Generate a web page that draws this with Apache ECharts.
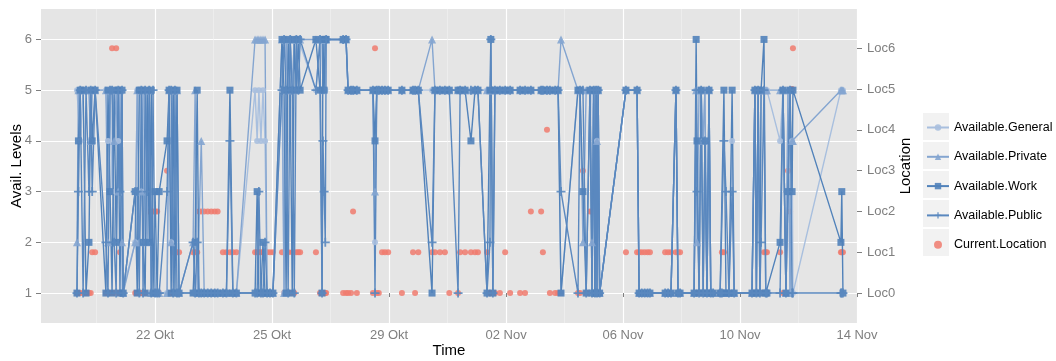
<!DOCTYPE html>
<html>
<head>
<meta charset="utf-8">
<script src="https://cdn.jsdelivr.net/npm/echarts@6/dist/echarts.min.js"></script>
<style>
html, body { margin: 0; padding: 0; background: #fff; }
#chart { width: 1056px; height: 361px; }
</style>
</head>
<body>
<div id="chart"></div>
<script>
// time in days after 18 Okt, 00:00
var timeDays = [
  1.33,1.38,1.44,1.54,1.64,1.74,1.80,1.85,1.95,
  2.32,2.39,2.46,2.53,2.60,2.67,2.74,2.80,2.87,2.91,
  3.32,3.39,3.46,3.53,3.59,3.66,3.73,3.80,3.87,3.93,4.00,4.07,4.14,
  4.41,4.48,4.55,4.62,4.68,4.75,4.82,
  5.30,5.37,5.44,5.50,5.58,5.68,5.80,5.92,6.04,6.14,
  6.32,6.44,6.56,6.66,6.78,
  7.42,7.49,7.55,7.62,7.69,7.76,7.83,7.93,8.03,
  8.34,8.41,8.48,8.55,8.62,8.69,8.76,8.83,8.90,8.96,
  9.50,9.64,9.71,9.74,9.78,9.82,9.85,
  10.43,10.53,10.60,10.70,10.77,10.90,
  11.45,11.52,11.58,11.65,11.76,11.86,11.97,
  12.44,12.82,12.89,13.00,
  13.47,13.57,13.74,13.91,
  14.06,14.36,14.43,14.60,14.80,14.94,15.04,
  15.35,15.45,15.48,15.55,15.62,15.79,15.97,16.14,
  16.48,16.65,16.85,17.20,17.26,17.40,17.50,17.68,17.78,
  17.88,
  18.46,18.53,18.63,18.74,18.87,18.94,19.00,19.04,19.08,19.11,19.15,19.20,
  20.10,20.48,20.55,20.64,20.74,20.84,20.92,
  21.44,21.54,21.64,21.81,21.88,21.95,
  22.43,22.50,22.53,22.60,22.67,22.74,22.80,22.87,22.94,23.00,23.08,
  23.32,23.38,23.45,23.52,23.62,23.73,23.80,
  24.41,24.51,24.56,24.62,24.68,24.72,24.82,24.88,24.92,
  25.37,25.47,25.57,25.64,25.71,25.78,25.81,
  27.45,27.48,27.52
];
var availGeneral = [
  5,5,4,5,5,5,4,5,5,
  5,4,5,3,5,5,4,5,1,1,
  2,5,5,3,5,2,5,5,1,1,1,1,1,
  1,5,2,5,5,5,1,
  1,1,1,1,1,1,1,1,1,1,
  1,1,1,1,1,
  5,4,5,4,5,4,1,1,1,
  5,1,6,5,6,5,6,5,6,6,
  5,6,6,5,6,5,6,
  6,6,5,5,5,5,
  5,2,5,5,5,5,5,
  5,5,5,5,
  5,5,5,5,
  5,5,5,5,5,5,5,
  5,5,5,5,5,5,5,5,
  5,5,5,5,5,5,5,5,5,
  1,
  5,5,5,5,5,5,5,1,5,4,5,1,
  5,5,1,1,1,1,1,
  1,1,1,5,1,1,
  1,5,5,5,5,4,5,1,5,1,1,
  1,1,1,1,1,4,1,
  1,5,1,5,1,5,5,5,5,
  4,5,1,5,1,4,1,
  5,5,5
];
var availPrivate = [
  2,5,5,5,5,5,4,5,5,
  5,2,5,5,4,5,3,5,2,1,
  2,5,2,3,5,5,2,5,1,1,1,1,1,
  1,5,2,5,5,5,1,
  2,5,1,1,4,1,1,1,1,1,
  1,1,1,1,1,
  6,6,6,6,6,6,1,1,1,
  6,1,6,5,6,5,6,6,6,6,
  6,6,6,5,6,6,6,
  6,6,5,5,5,5,
  5,3,5,5,5,5,5,
  5,5,5,5,
  6,5,5,5,
  5,5,5,5,5,5,5,
  5,5,5,5,5,5,5,5,
  5,5,5,5,5,5,5,5,5,
  6,
  5,5,2,5,5,2,5,1,5,4,5,1,
  5,5,1,1,1,1,1,
  1,1,1,5,1,1,
  1,5,2,5,5,4,5,1,5,1,1,
  1,1,1,1,1,1,1,
  1,5,5,5,5,5,5,5,5,
  5,5,1,5,1,4,4,
  5,5,5
];
var availWork = [
  1,4,5,5,1,2,5,4,5,
  1,5,3,1,5,2,5,1,5,1,
  3,1,5,5,2,1,5,2,5,1,3,1,3,
  4,5,1,5,1,5,1,
  1,2,5,1,1,1,1,1,1,1,
  1,1,5,1,1,
  1,3,1,1,2,1,1,1,1,
  6,5,1,6,5,1,6,5,6,5,
  6,5,1,6,5,6,6,
  6,6,5,5,5,5,
  5,4,5,5,5,5,5,
  5,5,5,5,
  1,5,5,5,
  5,5,5,5,4,5,5,
  1,5,6,1,5,5,5,5,
  5,5,5,5,5,5,5,5,5,
  1,
  5,5,3,1,5,1,5,1,5,1,5,1,
  5,5,1,1,1,1,1,
  1,1,1,5,1,1,
  1,6,4,1,5,1,4,1,5,1,1,
  1,1,5,1,1,5,1,
  1,5,1,5,1,5,6,1,1,
  2,5,1,3,5,3,5,
  2,3,1
];
var availPublic = [
  1,3,5,1,5,3,5,3,5,
  2,1,5,5,2,1,5,3,5,1,
  3,3,1,5,1,5,3,5,1,5,1,1,1,
  3,5,5,1,5,1,1,
  2,1,2,1,1,1,1,1,1,1,
  1,1,4,1,1,
  1,1,3,1,1,2,1,1,1,
  5,6,5,1,6,5,1,6,5,6,
  5,6,1,4,3,2,6,
  6,6,5,5,5,5,
  5,1,5,5,5,5,5,
  5,5,5,5,
  2,5,5,5,
  5,1,5,5,5,5,5,
  1,2,6,1,5,5,5,5,
  5,5,5,5,5,5,5,5,5,
  3,
  1,5,5,1,5,1,5,1,5,1,5,1,
  5,5,1,1,1,1,1,
  1,1,1,5,1,1,
  1,5,3,1,5,1,4,1,5,1,1,
  1,1,4,3,1,3,1,
  1,5,1,5,1,2,5,1,1,
  1,5,1,3,5,1,1,
  1,1,1
];
// location index (Loc0 .. Loc6)
var currentLocation = [
  0,0,0,0,0,0,0,1,1,
  0,0,0,6,0,6,0,1,0,0,
  0,0,0,0,0,0,2,2,2,2,2,2,0,
  3,0,0,1,1,1,1,
  1,1,1,2,2,2,2,2,2,2,
  1,1,1,1,1,
  1,1,1,1,1,1,1,1,1,
  1,0,0,1,0,1,0,1,1,1,
  1,0,0,0,0,0,0,
  0,0,0,0,2,0,
  0,6,0,0,1,1,1,
  0,1,0,1,
  1,1,1,1,
  0,0,1,1,1,1,1,
  1,0,0,0,0,0,1,0,
  0,0,2,2,1,4,0,0,0,
  0,
  0,0,3,0,2,2,2,2,2,0,0,0,
  1,1,1,1,1,1,1,
  1,1,1,1,1,1,
  0,0,0,0,0,0,0,0,0,0,0,
  0,1,1,0,0,0,0,
  0,0,0,0,0,0,1,1,1,
  1,0,0,3,2,5,6,
  1,1,1
];

var xTickDays = [4, 8, 12, 16, 20, 24, 28];
var xTickLabels = ['22 Okt', '25 Okt', '29 Okt', '02 Nov', '06 Nov', '10 Nov', '14 Nov'];
var xMinorDays = [2, 6, 10, 14, 18, 22, 26];
var levelTicks = [1, 2, 3, 4, 5, 6];
var locTicks = [0, 1, 2, 3, 4, 5, 6];
var locLabels = ['Loc0', 'Loc1', 'Loc2', 'Loc3', 'Loc4', 'Loc5', 'Loc6'];

function pairs(vals) {
  return timeDays.map(function (t, i) { return [t, vals[i]]; });
}

var FONT = '"Liberation Sans", Arial, sans-serif';
var plusPath = 'path://M4,0 H6 V4 H10 V6 H6 V10 H4 V6 H0 V4 H4 Z';

function availSeries(name, vals, color, symbol, size) {
  return {
    name: name,
    type: 'line',
    data: pairs(vals),
    symbol: symbol,
    symbolSize: size,
    showAllSymbol: true,
    itemStyle: { color: color, opacity: 0.9 },
    lineStyle: { color: color, width: 1.4 },
    emphasis: { disabled: true }
  };
}

var chart = echarts.init(document.getElementById('chart'));
var option = {
  animation: false,
  textStyle: { fontFamily: FONT },
  grid: {
    left: 41, right: 199, top: 9, bottom: 38,
    outerBoundsMode: 'none',
    show: true, backgroundColor: '#e5e5e5', borderWidth: 0
  },
  legend: {
    orient: 'vertical',
    left: 921, top: 116,
    itemWidth: 22, itemHeight: 8, itemGap: 16.3,
    textStyle: { color: '#000', fontSize: 12.5, fontFamily: FONT },
    data: ['Available.General', 'Available.Private', 'Available.Work', 'Available.Public', 'Current.Location'],
    z: 10
  },
  graphic: [112, 141, 170, 199, 228].map(function (y) {
    return {
      type: 'rect', left: 922, top: y, z: 0,
      shape: { width: 27, height: 28 },
      style: { fill: '#f2f2f2', stroke: '#fff', lineWidth: 1 }
    };
  }),
  xAxis: [{
    type: 'value', min: 0.1, max: 28,
    name: 'Time', nameLocation: 'middle', nameGap: 20, nameMoveOverlap: false,
    nameTextStyle: { color: '#000', fontSize: 15, fontFamily: FONT },
    axisLine: { show: false },
    axisTick: { show: true, length: 4, lineStyle: { color: '#7f7f7f' }, customValues: xTickDays },
    axisLabel: {
      customValues: xTickDays, color: '#7f7f7f', fontSize: 13, margin: 6,
      formatter: function (v) { var i = xTickDays.indexOf(v); return i < 0 ? '' : xTickLabels[i]; }
    },
    splitLine: { show: true, lineStyle: { color: '#ffffff', width: 1.2 } }
  }, {
    type: 'value', min: 0.1, max: 28, position: 'top',
    axisLine: { show: false },
    axisTick: { show: false, customValues: xMinorDays },
    axisLabel: { show: false, customValues: xMinorDays },
    splitLine: { show: true, lineStyle: { color: '#f2f2f2', width: 0.6 } }
  }],
  yAxis: [{
    type: 'value', min: 0.41, max: 6.6,
    name: 'Avail. Levels', nameLocation: 'middle', nameRotate: 90, nameGap: 17, nameMoveOverlap: false,
    nameTextStyle: { color: '#000', fontSize: 15, fontFamily: FONT },
    axisLine: { show: false },
    axisTick: { show: true, length: 5, lineStyle: { color: '#7f7f7f' }, customValues: levelTicks },
    axisLabel: { customValues: levelTicks, color: '#7f7f7f', fontSize: 13, margin: 9 },
    splitLine: { show: true, lineStyle: { color: '#ffffff', width: 1.2 } }
  }, {
    type: 'value', min: -0.735, max: 6.963, position: 'right',
    name: 'Location', nameLocation: 'middle', nameRotate: 90, nameGap: 41, nameMoveOverlap: false,
    nameTextStyle: { color: '#000', fontSize: 15, fontFamily: FONT },
    axisLine: { show: false },
    axisTick: { show: true, length: 5, lineStyle: { color: '#7f7f7f' }, customValues: locTicks },
    axisLabel: {
      customValues: locTicks, color: '#7f7f7f', fontSize: 13, margin: 10,
      formatter: function (v) { return locLabels[v] || ''; }
    },
    splitLine: { show: false }
  }],
  series: [
    {
      name: 'Current.Location',
      type: 'scatter',
      yAxisIndex: 1,
      data: pairs(currentLocation),
      symbol: 'circle',
      symbolSize: 6,
      itemStyle: { color: '#f07b6f', opacity: 0.85 },
      emphasis: { disabled: true },
      z: 1
    },
    availSeries('Available.General', availGeneral, '#a8bfde', 'circle', 6),
    availSeries('Available.Private', availPrivate, '#84a5d0', 'triangle', 8),
    availSeries('Available.Work', availWork, '#5182ba', 'rect', 7),
    availSeries('Available.Public', availPublic, '#5a88bf', plusPath, 9)
  ]
};
chart.setOption(option);
</script>
</body>
</html>
